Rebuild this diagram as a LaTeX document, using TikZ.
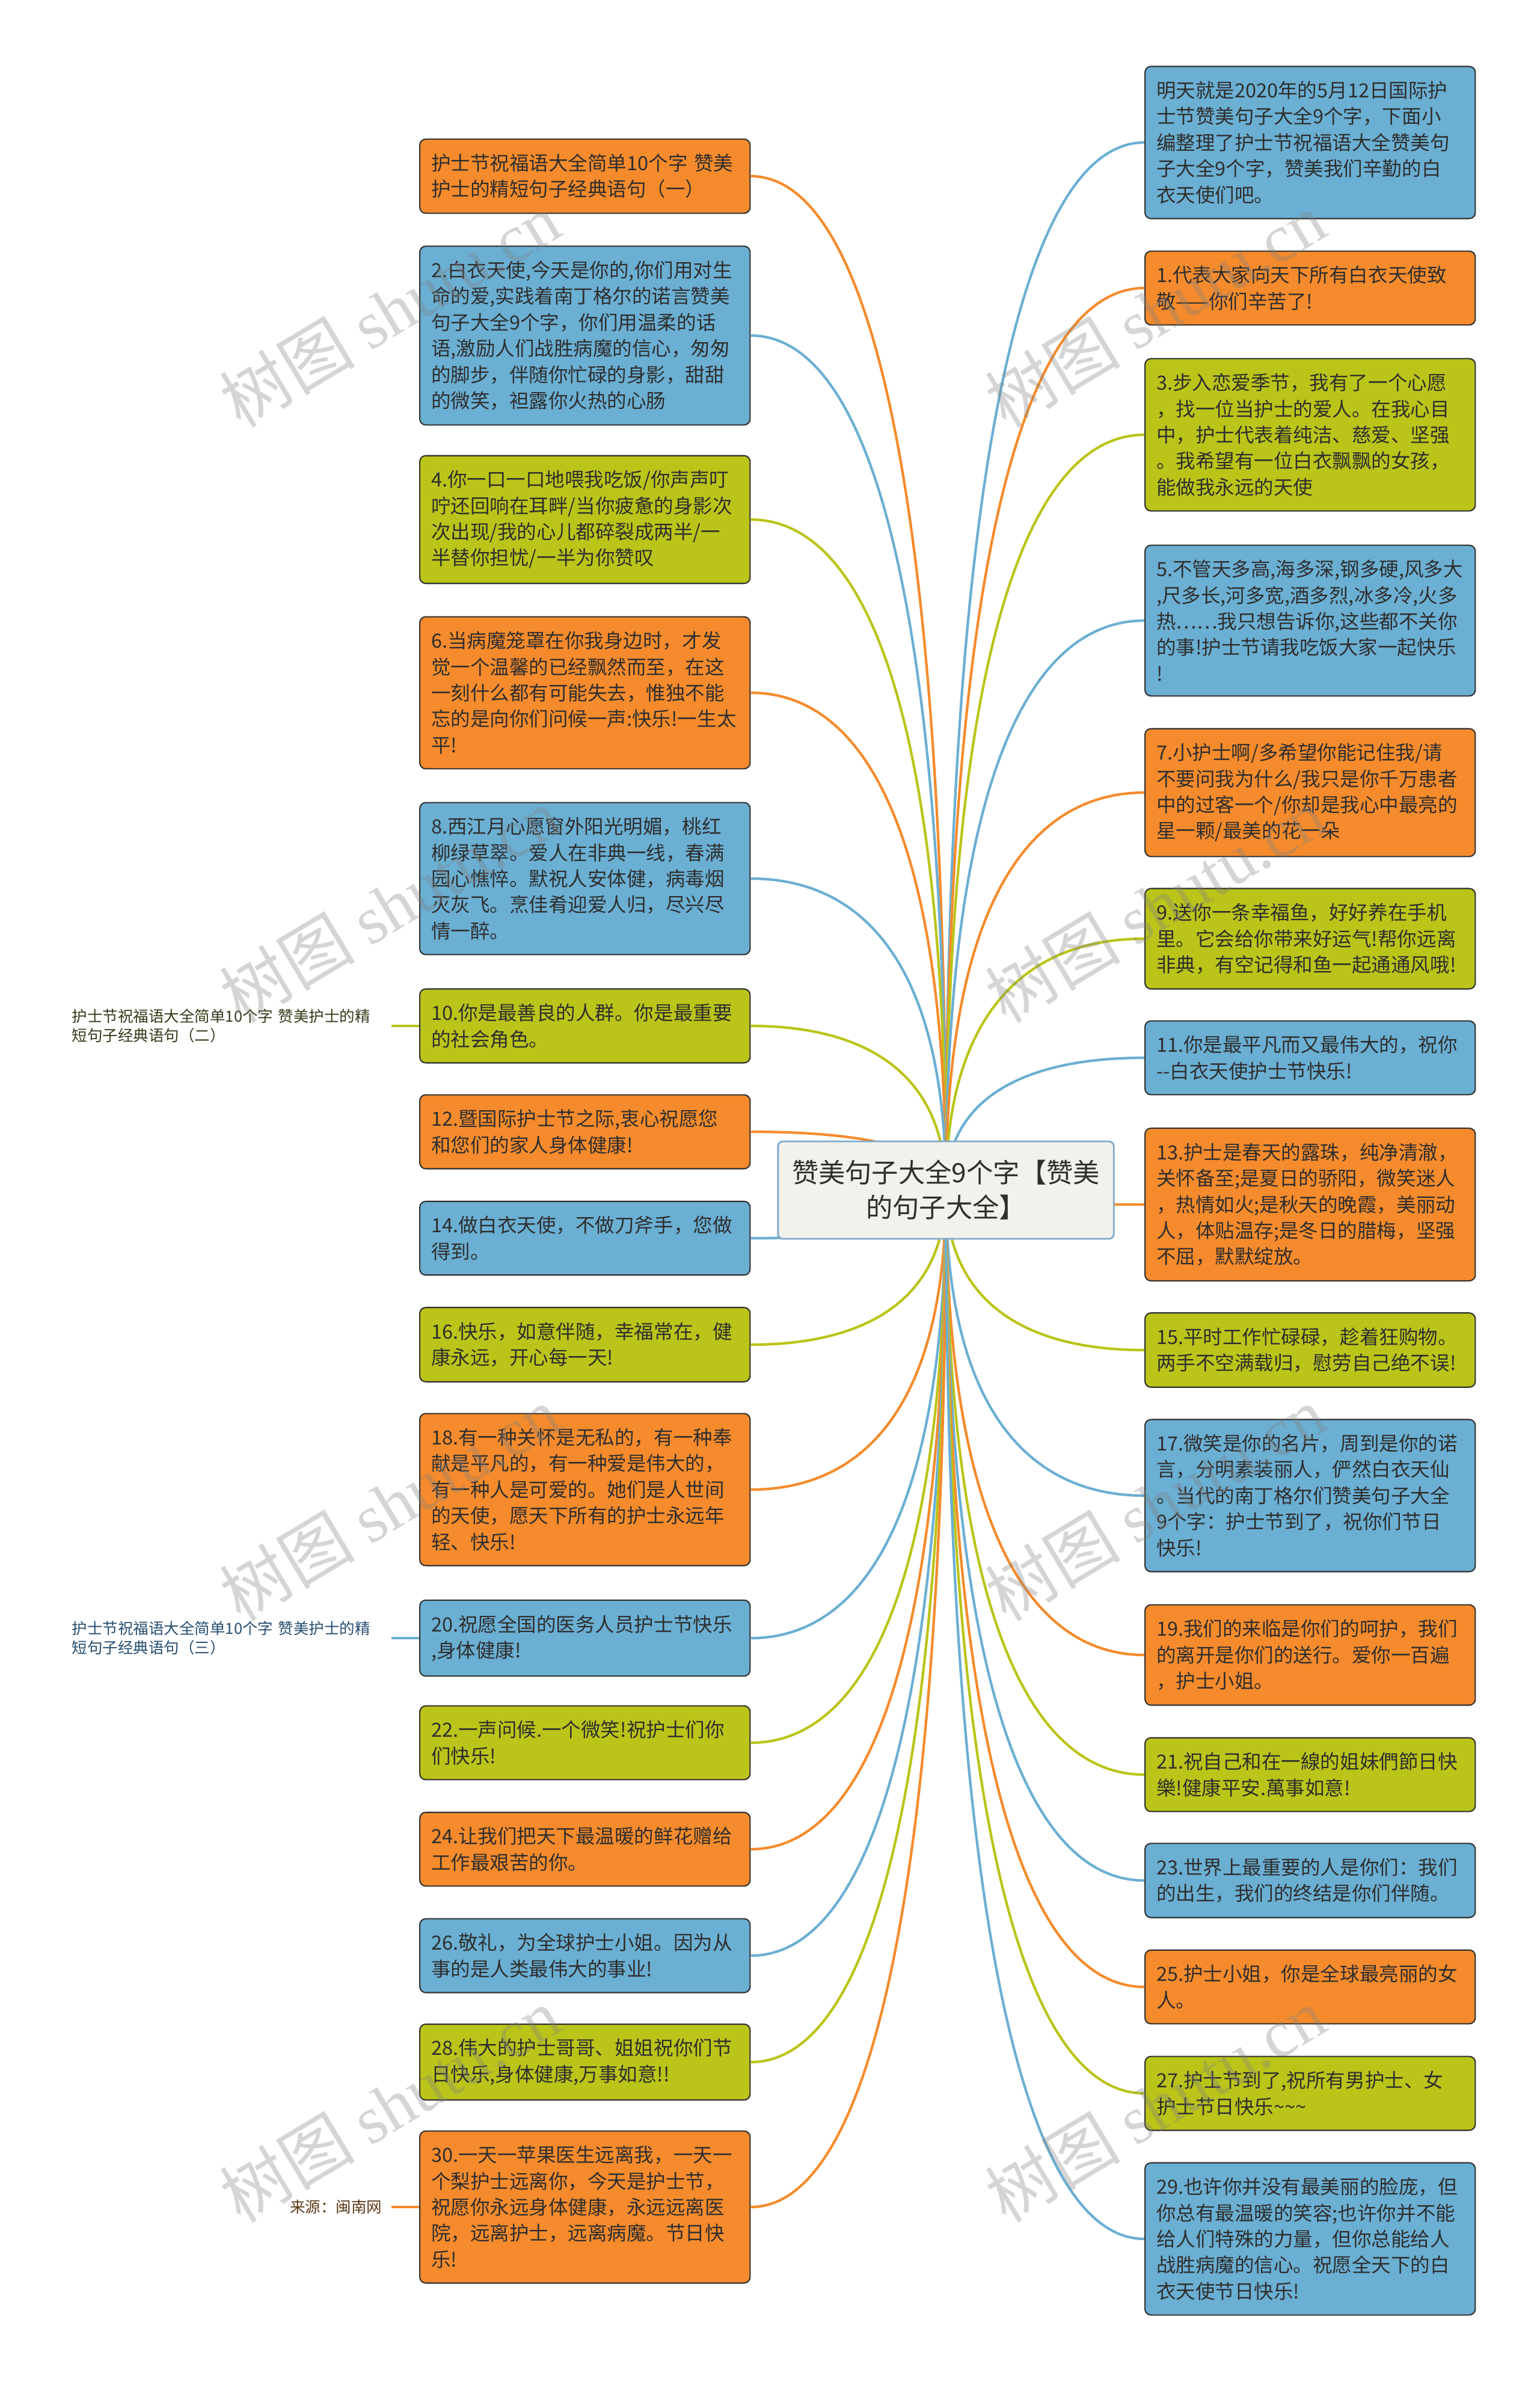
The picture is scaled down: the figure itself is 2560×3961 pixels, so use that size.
\documentclass[tikz,border=0pt]{standalone}
\usepackage{fontspec}
\setmainfont{Noto Sans CJK SC}
\newfontfamily\wmfont{Liberation Serif}
\usetikzlibrary{calc}

\definecolor{nurseorange}{RGB}{245,139,44}
\definecolor{nurseblue}{RGB}{107,175,211}
\definecolor{nursegreen}{RGB}{187,196,24}
\definecolor{ink}{RGB}{46,46,46}
\definecolor{boxline}{RGB}{50,50,50}
\definecolor{rootfill}{RGB}{242,242,236}
\definecolor{rootline}{RGB}{126,170,204}
\definecolor{noteolive}{RGB}{55,58,25}
\definecolor{noteblue}{RGB}{38,78,112}
\definecolor{notebrown}{RGB}{92,58,24}

\newcommand\leaffont{\fontsize{9.25pt}{12.35pt}\selectfont}
\newcommand\notefont{\fontsize{7.25pt}{9.2pt}\selectfont}
\newcommand\rootfont{\fontsize{12.6pt}{16.5pt}\selectfont}

\tikzset{
  leaf/.style={draw=boxline, line width=0.6pt, rounded corners=0.1cm, anchor=west,
    text width=5.11cm, inner xsep=0.19cm, inner ysep=0.245cm, align=left,
    font=\leaffont, text=ink},
  orangeleaf/.style={leaf, fill=nurseorange},
  blueleaf/.style={leaf, fill=nurseblue},
  greenleaf/.style={leaf, fill=nursegreen},
  root/.style={draw=rootline, fill=rootfill, line width=0.8pt, rounded corners=0.08cm,
    minimum width=5.58cm, minimum height=1.62cm, align=center, font=\rootfont, text=ink},
  note/.style={anchor=east, align=left, font=\notefont},
  branchline/.style={line width=1.2pt},
  watermark/.style={rotate=31, text=gray, opacity=0.33, font=\fontsize{32pt}{32pt}\selectfont}
}

% curved branch from the side of a box into the root
\newcommand\branch[3]{%
  \draw[branchline,#1] (#2.#3) .. controls ($(#2.#3)!0.6!(#2.#3 -| hub)$)
    and ($(hub)!0.7!(hub |- #2.#3)$) .. (hub);}

\begin{document}
\begin{tikzpicture}[x=0.01cm,y=-0.01cm]
  \fill[white] (0,0) rectangle (2560,3961);
  \useasboundingbox (0,0) rectangle (2560,3961);
  \coordinate (hub) at (1573,1979);

  % left column
  \node[orangeleaf] (L1) at (697,293) {护士节祝福语大全简单10个字~赞美\\护士的精短句子经典语句（一）};
  \node[blueleaf] (L2) at (697,558) {2.白衣天使,今天是你的,你们用对生\\命的爱,实践着南丁格尔的诺言赞美\\句子大全9个字，你们用温柔的话\\语,激励人们战胜病魔的信心，匆匆\\的脚步，伴随你忙碌的身影，甜甜\\的微笑，袒露你火热的心肠};
  \node[greenleaf] (L3) at (697,864) {4.你一口一口地喂我吃饭/你声声叮\\咛还回响在耳畔/当你疲惫的身影次\\次出现/我的心儿都碎裂成两半/一\\半替你担忧/一半为你赞叹};
  \node[orangeleaf] (L4) at (697,1152) {6.当病魔笼罩在你我身边时，才发\\觉一个温馨的已经飘然而至，在这\\一刻什么都有可能失去，惟独不能\\忘的是向你们问候一声:快乐!一生太\\平!};
  \node[blueleaf] (L5) at (697,1461) {8.西江月心愿窗外阳光明媚，桃红\\柳绿草翠。爱人在非典一线，春满\\园心憔悴。默祝人安体健，病毒烟\\灭灰飞。烹佳肴迎爱人归，尽兴尽\\情一醉。};
  \node[greenleaf] (L6) at (697,1706) {10.你是最善良的人群。你是最重要\\的社会角色。};
  \node[orangeleaf] (L7) at (697,1882) {12.暨国际护士节之际,衷心祝愿您\\和您们的家人身体健康!};
  \node[blueleaf] (L8) at (697,2059) {14.做白衣天使，不做刀斧手，您做\\得到。};
  \node[greenleaf] (L9) at (697,2236) {16.快乐，如意伴随，幸福常在，健\\康永远，开心每一天!};
  \node[orangeleaf] (L10) at (697,2477) {18.有一种关怀是无私的，有一种奉\\献是平凡的，有一种爱是伟大的，\\有一种人是可爱的。她们是人世间\\的天使，愿天下所有的护士永远年\\轻、快乐!};
  \node[blueleaf] (L11) at (697,2724) {20.祝愿全国的医务人员护士节快乐\\,身体健康!};
  \node[greenleaf] (L12) at (697,2898) {22.一声问候.一个微笑!祝护士们你\\们快乐!};
  \node[orangeleaf] (L13) at (697,3075) {24.让我们把天下最温暖的鲜花赠给\\工作最艰苦的你。};
  \node[blueleaf] (L14) at (697,3252) {26.敬礼，为全球护士小姐。因为从\\事的是人类最伟大的事业!};
  \node[greenleaf] (L15) at (697,3429) {28.伟大的护士哥哥、姐姐祝你们节\\日快乐,身体健康,万事如意!!};
  \node[orangeleaf] (L16) at (697,3670) {30.一天一苹果医生远离我，一天一\\个梨护士远离你，今天是护士节，\\祝愿你永远身体健康，永远远离医\\院，远离护士，远离病魔。节日快\\乐!};

  % right column
  \node[blueleaf] (R1) at (1903,237) {明天就是2020年的5月12日国际护\\士节赞美句子大全9个字，下面小\\编整理了护士节祝福语大全赞美句\\子大全9个字，赞美我们辛勤的白\\衣天使们吧。};
  \node[orangeleaf] (R2) at (1903,479) {1.代表大家向天下所有白衣天使致\\敬——你们辛苦了!};
  \node[greenleaf] (R3) at (1903,723) {3.步入恋爱季节，我有了一个心愿\\，找一位当护士的爱人。在我心目\\中，护士代表着纯洁、慈爱、坚强\\。我希望有一位白衣飘飘的女孩，\\能做我永远的天使};
  \node[blueleaf] (R4) at (1903,1032) {5.不管天多高,海多深,钢多硬,风多大\\,尺多长,河多宽,酒多烈,冰多冷,火多\\热……我只想告诉你,这些都不关你\\的事!护士节请我吃饭大家一起快乐\\!};
  \node[orangeleaf] (R5) at (1903,1318) {7.小护士啊/多希望你能记住我/请\\不要问我为什么/我只是你千万患者\\中的过客一个/你却是我心中最亮的\\星一颗/最美的花一朵};
  \node[greenleaf] (R6) at (1903,1561) {9.送你一条幸福鱼，好好养在手机\\里。它会给你带来好运气!帮你远离\\非典，有空记得和鱼一起通通风哦!};
  \node[blueleaf] (R7) at (1903,1759) {11.你是最平凡而又最伟大的，祝你\\-{}-白衣天使护士节快乐!};
  \node[orangeleaf] (R8) at (1903,2003) {13.护士是春天的露珠，纯净清澈，\\关怀备至;是夏日的骄阳，微笑迷人\\，热情如火;是秋天的晚霞，美丽动\\人，体贴温存;是冬日的腊梅，坚强\\不屈，默默绽放。};
  \node[greenleaf] (R9) at (1903,2245) {15.平时工作忙碌碌，趁着狂购物。\\两手不空满载归，慰劳自己绝不误!};
  \node[blueleaf] (R10) at (1903,2487) {17.微笑是你的名片，周到是你的诺\\言，分明素装丽人，俨然白衣天仙\\。当代的南丁格尔们赞美句子大全\\9个字：护士节到了，祝你们节日\\快乐!};
  \node[orangeleaf] (R11) at (1903,2752) {19.我们的来临是你们的呵护，我们\\的离开是你们的送行。爱你一百遍\\，护士小姐。};
  \node[greenleaf] (R12) at (1903,2951) {21.祝自己和在一線的姐妹們節日快\\樂!健康平安.萬事如意!};
  \node[blueleaf] (R13) at (1903,3127) {23.世界上最重要的人是你们：我们\\的出生，我们的终结是你们伴随。};
  \node[orangeleaf] (R14) at (1903,3304) {25.护士小姐，你是全球最亮丽的女\\人。};
  \node[greenleaf] (R15) at (1903,3481) {27.护士节到了,祝所有男护士、女\\护士节日快乐\textasciitilde\textasciitilde\textasciitilde};
  \node[blueleaf] (R16) at (1903,3723) {29.也许你并没有最美丽的脸庞，但\\你总有最温暖的笑容;也许你并不能\\给人们特殊的力量，但你总能给人\\战胜病魔的信心。祝愿全天下的白\\衣天使节日快乐!};

  % notes hanging off the left column
  \node[note, text=noteolive, text width=5.06cm, inner xsep=0.24cm] (sub2) at (651,1706) {护士节祝福语大全简单10个字 赞美护士的精\\短句子经典语句（二）};
  \node[note, text=noteblue, text width=5.06cm, inner xsep=0.24cm] (sub3) at (651,2724) {护士节祝福语大全简单10个字 赞美护士的精\\短句子经典语句（三）};
  \node[note, text=notebrown, inner xsep=0.15cm] (src) at (651,3670) {来源：闽南网};
  \draw[branchline,nursegreen] (sub2.east) -- (L6.west);
  \draw[branchline,nurseblue] (sub3.east) -- (L11.west);
  \draw[branchline,nurseorange] (src.east) -- (L16.west);

  % branches into the root
  \branch{nurseorange}{L1}{east}
  \branch{nurseblue}{L2}{east}
  \branch{nursegreen}{L3}{east}
  \branch{nurseorange}{L4}{east}
  \branch{nurseblue}{L5}{east}
  \branch{nursegreen}{L6}{east}
  \branch{nurseorange}{L7}{east}
  \branch{nurseblue}{L8}{east}
  \branch{nursegreen}{L9}{east}
  \branch{nurseorange}{L10}{east}
  \branch{nurseblue}{L11}{east}
  \branch{nursegreen}{L12}{east}
  \branch{nurseorange}{L13}{east}
  \branch{nurseblue}{L14}{east}
  \branch{nursegreen}{L15}{east}
  \branch{nurseorange}{L16}{east}
  \branch{nurseblue}{R1}{west}
  \branch{nurseorange}{R2}{west}
  \branch{nursegreen}{R3}{west}
  \branch{nurseblue}{R4}{west}
  \branch{nurseorange}{R5}{west}
  \branch{nursegreen}{R6}{west}
  \branch{nurseblue}{R7}{west}
  \branch{nurseorange}{R8}{west}
  \branch{nursegreen}{R9}{west}
  \branch{nurseblue}{R10}{west}
  \branch{nurseorange}{R11}{west}
  \branch{nursegreen}{R12}{west}
  \branch{nurseblue}{R13}{west}
  \branch{nurseorange}{R14}{west}
  \branch{nursegreen}{R15}{west}
  \branch{nurseblue}{R16}{west}

  \node[root] (root) at (hub) {赞美句子大全9个字【赞美\\的句子大全】};

  % watermarks
  \node[watermark] (wm1) at (648,515) {树图 {\wmfont shutu.cn}};
  \node[watermark] (wm2) at (1921,515) {树图 {\wmfont shutu.cn}};
  \node[watermark] (wm3) at (648,1505) {树图 {\wmfont shutu.cn}};
  \node[watermark] (wm4) at (1921,1505) {树图 {\wmfont shutu.cn}};
  \node[watermark] (wm5) at (648,2500) {树图 {\wmfont shutu.cn}};
  \node[watermark] (wm6) at (1921,2500) {树图 {\wmfont shutu.cn}};
  \node[watermark] (wm7) at (648,3500) {树图 {\wmfont shutu.cn}};
  \node[watermark] (wm8) at (1921,3500) {树图 {\wmfont shutu.cn}};
\end{tikzpicture}
\end{document}
